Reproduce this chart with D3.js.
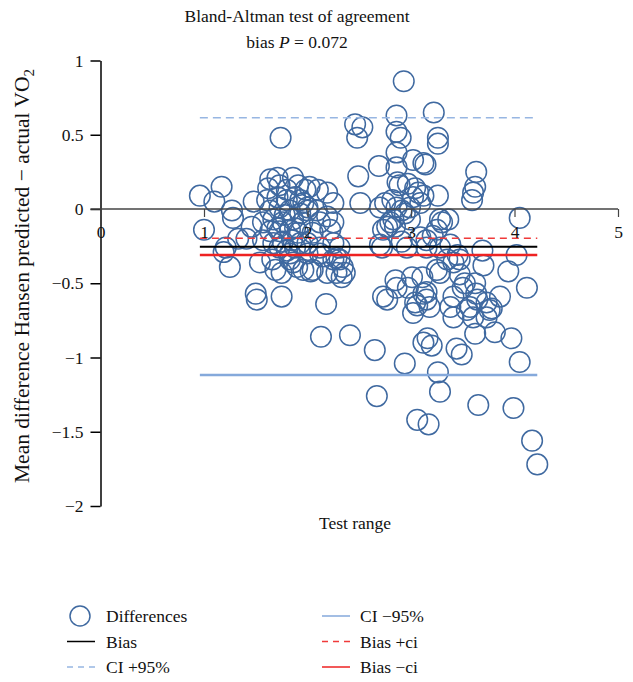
<!DOCTYPE html>
<html>
<head>
<meta charset="utf-8">
<script src="https://cdn.jsdelivr.net/npm/d3@7"></script>
<style>
  body { margin: 0; background: #fff; }
  svg text { font-family: "Liberation Serif", "DejaVu Serif", serif; fill: #111; }
</style>
</head>
<body>
<svg id="chart" width="633" height="682"></svg>
<script>
// test range (x) and mean difference (y) for each subject
var testRange = [
  0.96,1.10,1.17,1.27,1.28,1.00,1.21,1.19,1.25,1.48,1.33,1.41,1.46,1.50,1.51,1.75,1.74,1.54,1.57,1.57,
  1.61,1.62,1.64,1.71,1.86,1.73,1.80,1.91,1.98,1.71,1.80,1.88,1.96,1.64,1.73,1.83,1.93,2.00,1.67,1.76,
  1.86,1.95,1.64,1.73,1.83,1.91,1.67,1.76,1.85,1.93,1.73,1.80,1.88,1.83,2.00,1.66,1.69,1.75,1.90,1.83,
  1.86,2.12,2.28,2.03,2.19,2.33,2.36,2.18,2.13,2.41,2.02,2.10,2.19,2.25,2.00,2.09,2.19,2.12,2.25,2.22,
  2.05,2.00,2.12,2.25,2.31,2.15,2.25,2.34,2.28,2.05,1.96,1.78,1.88,1.71,1.93,
  2.46,2.53,2.48,2.93,3.22,2.86,2.86,2.90,2.86,3.26,3.26,2.69,2.49,3.02,3.12,3.14,2.51,2.87,2.97,3.04,
  3.07,3.02,3.09,3.26,2.70,2.75,2.82,2.86,2.91,2.94,2.99,3.28,3.36,3.25,4.05,2.80,2.845,2.77,2.73,2.70,
  2.91,2.96,3.15,3.21,3.28,3.45,3.69,4.02,3.63,3.62,3.60,3.59,3.30,3.38,3.70,3.94,4.12,3.47,3.41,3.25,
  3.28,3.47,3.52,3.62,3.86,3.73,3.78,3.64,3.57,3.41,3.38,3.15,3.15,3.18,3.63,3.76,3.60,3.73,3.41,2.85,
  2.86,2.77,2.97,3.06,3.01,3.11,3.12,2.31,3.35,3.50,3.54,3.04,3.02,2.73,2.65,2.94,3.12,3.16,3.20,3.44,
  3.49,3.62,3.81,3.97,4.05,3.26,3.28,2.67,3.65,3.99,3.06,3.17,4.17,4.22,2.86,2.89,3.12,2.83,2.99,3.09,
  2.72,3.15
];
var meanDiff = [
  0.09,0.05,0.15,-0.01,-0.06,-0.14,-0.26,-0.29,-0.39,0.05,-0.20,-0.20,-0.12,-0.57,-0.61,-0.59,0.48,-0.36,-0.21,-0.09,
  0.06,0.14,0.20,0.21,0.21,0.16,0.13,0.16,0.13,0.08,0.06,0.08,0.04,-0.01,0.01,-0.01,-0.03,-0.01,-0.07,-0.09,
  -0.07,-0.09,-0.15,-0.15,-0.14,-0.16,-0.23,-0.22,-0.21,-0.23,-0.26,-0.28,-0.26,-0.30,-0.30,-0.34,-0.41,-0.43,-0.39,-0.34,
  -0.36,-0.30,-0.33,-0.42,-0.43,-0.46,-0.43,-0.64,-0.86,-0.85,0.15,0.13,0.11,0.04,0.01,-0.01,-0.05,-0.09,-0.09,-0.14,
  -0.16,-0.23,-0.26,-0.23,-0.26,-0.32,-0.34,-0.39,-0.43,-0.41,-0.41,-0.04,-0.13,-0.13,0.06,
  0.57,0.55,0.48,0.86,0.65,0.63,0.52,0.48,0.38,0.48,0.44,0.29,0.22,0.33,0.31,0.30,0.04,0.18,0.17,0.14,
  0.11,0.08,0.04,0.09,0.01,0.04,0.06,0.01,-0.01,-0.03,0.01,-0.07,-0.07,-0.14,-0.06,-0.09,-0.12,-0.12,-0.14,-0.24,
  -0.22,-0.26,-0.21,-0.18,-0.26,-0.31,-0.28,-0.31,0.25,0.15,0.11,0.06,-0.09,-0.24,-0.38,-0.42,-0.53,-0.34,-0.36,-0.41,
  -0.43,-0.44,-0.50,-0.50,-0.59,-0.63,-0.67,-0.61,-0.66,-0.59,-0.66,-0.56,-0.61,-0.66,-0.57,-0.68,-0.73,-0.73,-0.73,-0.48,
  -0.53,-0.61,-0.53,-0.65,-0.46,-0.46,-0.57,-0.34,-0.34,-0.53,-0.68,-0.63,-0.70,-0.59,-0.95,-1.04,-0.90,-0.87,-0.92,-0.94,
  -0.98,-0.84,-0.83,-0.87,-1.03,-1.10,-1.23,-1.26,-1.32,-1.34,-1.42,-1.45,-1.56,-1.72,0.28,0.16,0.09,-0.07,-0.07,-0.19,
  -0.26,-0.26
];

// reference lines
var lineNames = ['Bias', 'CI +95%', 'CI \u221295%', 'Bias +ci', 'Bias \u2212ci'];
var lineValues = [-0.254, 0.615, -1.118, -0.197, -0.31];

var xTicks = [0, 1, 2, 3, 4, 5];
var yTicks = [1, 0.5, 0, -0.5, -1, -1.5, -2];

var lineStyle = {
  'Bias':        { color: '#000000', width: 2,   dash: null },
  'CI +95%':     { color: '#97b6e2', width: 1.5, dash: '8,5' },
  'CI \u221295%':{ color: '#85a9db', width: 2.5, dash: null },
  'Bias +ci':    { color: '#f03a3a', width: 1.5, dash: '7,5' },
  'Bias \u2212ci':{ color: '#ee2222', width: 2.5, dash: null }
};

var pointColor = '#3f69a0';
var serif = '"Liberation Serif", "DejaVu Serif", serif';

var svg = d3.select('#chart').attr('font-family', serif);

var x = d3.scaleLinear().domain([0, 5]).range([100.5, 618]);
var y = d3.scaleLinear().domain([-2, 1]).range([506, 60.5]);

var points = testRange.map(function(d, i) { return { x: d, y: meanDiff[i] }; });

// circles
svg.append('g')
  .selectAll('circle')
  .data(points)
  .enter()
  .append('circle')
  .attr('cx', function(d) { return x(d.x); })
  .attr('cy', function(d) { return y(d.y); })
  .attr('r', 10.3)
  .attr('fill', 'none')
  .attr('stroke', pointColor)
  .attr('stroke-width', 1.5);

// reference lines span the range of the data
var xExt = d3.extent(testRange);
svg.append('g')
  .selectAll('line')
  .data(lineNames)
  .enter()
  .append('line')
  .attr('x1', x(xExt[0]))
  .attr('x2', x(xExt[1]))
  .attr('y1', function(d, i) { return y(lineValues[i]); })
  .attr('y2', function(d, i) { return y(lineValues[i]); })
  .attr('stroke', function(d) { return lineStyle[d].color; })
  .attr('stroke-width', function(d) { return lineStyle[d].width; })
  .attr('stroke-dasharray', function(d) { return lineStyle[d].dash; });

var fmt = d3.format('');

// y axis
var yAxis = svg.append('g')
  .attr('transform', 'translate(' + x(0) + ',0)')
  .call(d3.axisLeft(y).tickValues(yTicks).tickFormat(fmt)
    .tickSize(10).tickSizeOuter(0).tickPadding(7));
yAxis.attr('font-family', serif).attr('font-size', 17);
yAxis.select('.domain').attr('stroke', '#000').attr('stroke-width', 1.5);
yAxis.selectAll('.tick line').attr('stroke', '#000').attr('stroke-width', 1.5);
yAxis.selectAll('text').attr('font-family', serif).style('font-size', '17.5px');

// x axis drawn through zero
var xAxis = svg.append('g')
  .attr('transform', 'translate(0,' + y(0) + ')')
  .call(d3.axisBottom(x).tickValues(xTicks).tickFormat(fmt)
    .tickSize(8).tickSizeOuter(0).tickPadding(9));
xAxis.attr('font-family', serif).attr('font-size', 17);
xAxis.select('.domain').remove();
xAxis.insert('line', ':first-child')
  .attr('x1', x(0) - 10).attr('x2', x(5))
  .attr('stroke', '#444').attr('stroke-width', 1.5);
xAxis.selectAll('.tick line').attr('stroke', '#444').attr('stroke-width', 1.2);
xAxis.selectAll('text').attr('font-family', serif).style('font-size', '17.5px');

// titles
svg.append('text')
  .attr('x', 297).attr('y', 22)
  .attr('text-anchor', 'middle')
  .style('font-size', '17.5px')
  .text('Bland-Altman test of agreement');

var sub = svg.append('text')
  .attr('x', 297).attr('y', 48)
  .attr('text-anchor', 'middle')
  .style('font-size', '17.5px');
sub.append('tspan').text('bias ');
sub.append('tspan').style('font-style', 'italic').text('P');
sub.append('tspan').text(' = 0.072');

svg.append('text')
  .attr('x', 355).attr('y', 529)
  .attr('text-anchor', 'middle')
  .style('font-size', '17.5px')
  .text('Test range');

var yl = svg.append('text')
  .attr('transform', 'translate(29,276) rotate(-90)')
  .attr('text-anchor', 'middle')
  .style('font-size', '21.5px');
yl.append('tspan').text('Mean difference Hansen predicted \u2212 actual VO');
yl.append('tspan').attr('dy', 5).style('font-size', '15px').text('2');

// legend
var legendRows = [
  { name: 'Differences', col: 0, row: 0 },
  { name: 'Bias', col: 0, row: 1 },
  { name: 'CI +95%', col: 0, row: 2 },
  { name: 'CI \u221295%', col: 1, row: 0 },
  { name: 'Bias +ci', col: 1, row: 1 },
  { name: 'Bias \u2212ci', col: 1, row: 2 }
];
var legend = svg.append('g');
var item = legend.selectAll('g')
  .data(legendRows)
  .enter()
  .append('g')
  .attr('transform', function(d) {
    return 'translate(' + (d.col === 0 ? 67 : 322) + ',' + (616 + d.row * 25.5) + ')';
  });
item.each(function(d) {
  var g = d3.select(this);
  if (d.name === 'Differences') {
    g.append('circle').attr('cx', 13).attr('cy', 0).attr('r', 10)
      .attr('fill', 'none').attr('stroke', pointColor).attr('stroke-width', 1.5);
  } else {
    var s = lineStyle[d.name];
    g.append('line').attr('x1', 0).attr('x2', 28).attr('y1', 0).attr('y2', 0)
      .attr('stroke', s.color)
      .attr('stroke-width', Math.min(s.width, 1.5))
      .attr('stroke-dasharray', s.dash ? '6,5' : null);
  }
  g.append('text').attr('x', d.col === 0 ? 39 : 38).attr('y', 6)
    .style('font-size', '17.5px').text(d.name);
});
</script>
</body>
</html>
